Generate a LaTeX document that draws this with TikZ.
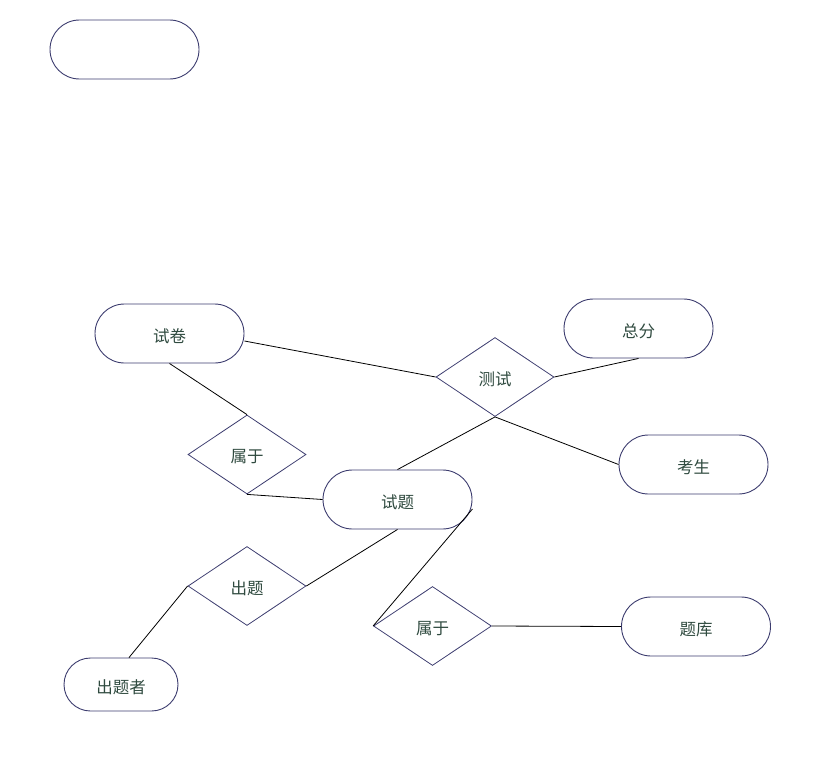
\documentclass[tikz,border=0pt]{standalone}
\usepackage{fontspec}
\newfontfamily\cjk{Noto Sans CJK SC}
\usetikzlibrary{shapes.misc,shapes.geometric,calc}
\definecolor{edgeblue}{HTML}{3C3C6E}
\definecolor{txtgreen}{HTML}{2F4A3F}
\newcommand{\lowtext}[1]{\raisebox{-2.5pt}[\height][\depth]{#1}}
\tikzset{
  entity/.style={rounded rectangle, draw=edgeblue, line width=0.9pt, minimum width=149pt, minimum height=59pt, inner sep=0pt, font=\cjk\fontsize{16.5}{19}\selectfont, text=txtgreen},
  relation/.style={diamond, draw=edgeblue, line width=0.8pt, minimum width=118pt, minimum height=79pt, inner sep=0pt, font=\cjk\fontsize{16.5}{19}\selectfont, text=txtgreen},
  link/.style={draw=black, line width=0.8pt}
}
\begin{document}
\begin{tikzpicture}[x=1pt,y=-1pt]
\useasboundingbox (0,0) rectangle (819,760);
\node[entity] (blank) at (124.5,49.5) {};
\node[entity] (shijuan) at (169.5,333.5) {\lowtext{试卷}};
\node[entity] (zongfen) at (638.5,328.5) {\lowtext{总分}};
\node[entity] (kaosheng) at (693.5,464.5) {\lowtext{考生}};
\node[entity] (shiti) at (397.5,499.5) {\lowtext{试题}};
\node[entity, minimum width=114pt, minimum height=53pt] (chutizhe) at (121,684.5) {\lowtext{出题者}};
\node[entity] (tiku) at (696,626.5) {\lowtext{题库}};
\node[relation] (ceshi) at (495,377) {\lowtext{测试}};
\node[relation] (shuyuA) at (247,454.5) {\lowtext{属于}};
\node[relation] (chuti) at (247,586) {\lowtext{出题}};
\node[relation] (shuyuB) at (432.5,626) {\lowtext{属于}};
\draw[link] ($(shijuan.east)+(0,7.5)$) -- (ceshi.west);
\draw[link] (shijuan.south) -- (shuyuA.north);
\draw[link] (shuyuA.south) -- (shiti.west);
\draw[link] (ceshi.south) -- (shiti.north);
\draw[link] (ceshi.east) -- (zongfen.south);
\draw[link] (ceshi.south) -- (kaosheng.west);
\draw[link] (shiti.south) -- (chuti.east);
\draw[link] (chuti.west) -- ($(chutizhe.north)+(8,0)$);
\draw[link] ($(shiti.east)+(0,9.5)$) -- (shuyuB.west);
\draw[link] (shuyuB.east) -- (tiku.west);
\end{tikzpicture}
\end{document}
